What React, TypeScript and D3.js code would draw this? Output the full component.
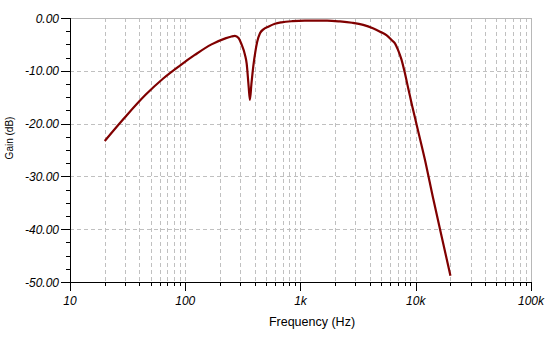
import React from "react";
import * as d3 from "d3";

const freqs = [20, 30, 45, 64, 90, 121, 169, 220, 252, 270, 290, 308, 330, 341, 355, 364, 375, 390, 405, 420, 445, 480, 525, 600, 685, 850, 1090, 1700, 2200, 2800, 3500, 4250, 4900, 5600, 6200, 6600, 7000, 7500, 8000, 8600, 9300, 10200, 12000, 14200, 16700, 20000];
const gains = [-23.3, -18.8, -14.6, -11.5, -9.0, -7.0, -5.0, -3.9, -3.5, -3.4, -3.8, -5.0, -7.0, -8.6, -13.0, -15.5, -12.5, -9.0, -6.5, -4.6, -2.9, -2.1, -1.65, -1.1, -0.82, -0.6, -0.5, -0.5, -0.65, -0.9, -1.3, -1.95, -2.6, -3.3, -4.2, -4.8, -6.0, -7.8, -10.2, -13.3, -16.6, -20.3, -26.8, -34.3, -41.2, -48.8];

const xDecades = [10, 100, 1000, 10000, 100000];
const xDecadeLabels = ["10", "100", "1k", "10k", "100k"];
const yMajorTicks = [0, -10, -20, -30, -40, -50];
const yMajorLabels = ["0.00", "-10.00", "-20.00", "-30.00", "-40.00", "-50.00"];
const xTitle = "Frequency (Hz)";
const yTitle = "Gain (dB)";

export default function App() {
  const W = 554, H = 340;
  const left = 70, right = 531, top = 18, bottom = 282;
  const x = d3.scaleLog().domain([10, 100000]).range([left, right]);
  const y = d3.scaleLinear().domain([-50, 0]).range([bottom, top]);

  const minorX: number[] = [];
  for (let i = 0; i < xDecades.length - 1; i++) {
    for (let m = 2; m <= 9; m++) minorX.push(xDecades[i] * m);
  }
  const minorY: number[] = [];
  for (let v = 0; v > -50; v -= 10) {
    minorY.push(v - 2.5, v - 5, v - 7.5);
  }
  const gridX = [...minorX, 100, 1000, 10000];
  const gridY = [-10, -20, -30, -40];

  const data = freqs.map((f, i) => [f, gains[i]] as [number, number]);
  const line = d3.line<[number, number]>()
    .x(d => x(d[0]))
    .y(d => y(d[1]))
    .curve(d3.curveMonotoneX);

  const font = "'Liberation Sans', Arial, sans-serif";
  const grid = "#c0c0c0";

  return (
    <svg width={W} height={H} style={{ position: "absolute", left: 0, top: 0, background: "#fff" }} fontFamily={font}>
      <rect x={0} y={0} width={W} height={H} fill="#fff" />
      {gridX.map((f, i) => (
        <line key={"gx" + i} x1={Math.round(x(f)) + 0.5} x2={Math.round(x(f)) + 0.5} y1={top} y2={bottom} stroke={grid} strokeDasharray="4,3" />
      ))}
      {gridY.map((v, i) => (
        <line key={"gy" + i} x1={left} x2={right} y1={Math.round(y(v)) + 0.5} y2={Math.round(y(v)) + 0.5} stroke={grid} strokeDasharray="4,3" />
      ))}
      <line x1={left} x2={right} y1={top + 0.5} y2={top + 0.5} stroke="#b8b8b8" />
      <line x1={right + 0.5} x2={right + 0.5} y1={top} y2={bottom} stroke="#b8b8b8" />
      <path d={line(data) || ""} fill="none" stroke="#800000" strokeWidth={2.2} strokeLinejoin="round" />
      <line x1={left + 0.5} x2={left + 0.5} y1={top} y2={bottom + 1} stroke="#000" />
      <line x1={left} x2={right + 1} y1={bottom + 0.5} y2={bottom + 0.5} stroke="#000" />
      {minorY.map((v, i) => (
        <line key={"my" + i} x1={left - 4} x2={left} y1={Math.round(y(v)) + 0.5} y2={Math.round(y(v)) + 0.5} stroke="#000" />
      ))}
      {yMajorTicks.map((v, i) => (
        <g key={"yt" + i}>
          <line x1={left - 9} x2={left} y1={Math.round(y(v)) + 0.5} y2={Math.round(y(v)) + 0.5} stroke="#000" />
          <text x={59} y={y(v) + 4.5} textAnchor="end" fontSize={12} fontStyle="italic" fill="#000">{yMajorLabels[i]}</text>
        </g>
      ))}
      {minorX.map((f, i) => (
        <line key={"mx" + i} x1={Math.round(x(f)) + 0.5} x2={Math.round(x(f)) + 0.5} y1={bottom} y2={bottom + 4} stroke="#000" />
      ))}
      {xDecades.map((f, i) => (
        <g key={"xt" + i}>
          <line x1={Math.round(x(f)) + 0.5} x2={Math.round(x(f)) + 0.5} y1={bottom} y2={bottom + 9} stroke="#000" />
          <text x={x(f)} y={305} textAnchor="middle" fontSize={12} fontStyle="italic" fill="#000">{xDecadeLabels[i]}</text>
        </g>
      ))}
      <text x={312} y={326} textAnchor="middle" fontSize={12.5} fill="#000">{xTitle}</text>
      <text transform={`translate(13,138) rotate(-90)`} textAnchor="middle" fontSize={10} fill="#000">{yTitle}</text>
    </svg>
  );
}
